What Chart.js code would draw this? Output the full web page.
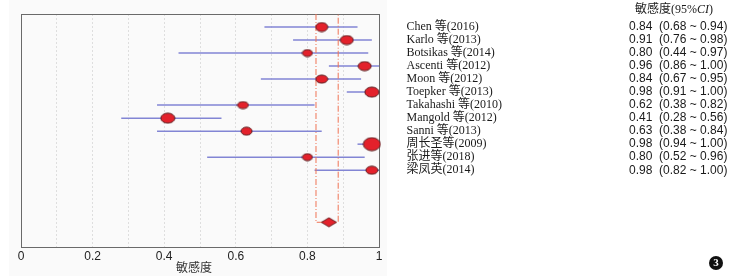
<!DOCTYPE html>
<html>
<head>
<meta charset="utf-8">
<script src="https://cdn.jsdelivr.net/npm/chart.js@4.4.1/dist/chart.umd.min.js"></script>
<style>
  body { margin: 0; background: #fff; }
  #canvas-container { width: 748px; height: 276px; }
</style>
</head>
<body>
<div id="canvas-container"><canvas id="mycanvas" width="748" height="276"></canvas></div>
<script>
// study data
const studies = [
  "Chen 等(2016)", "Karlo 等(2013)", "Botsikas 等(2014)", "Ascenti 等(2012)",
  "Moon 等(2012)", "Toepker 等(2013)", "Takahashi 等(2010)", "Mangold 等(2012)",
  "Sanni 等(2013)", "周长圣等(2009)", "张进等(2018)", "梁凤英(2014)"
];
const sens = [0.84, 0.91, 0.80, 0.96, 0.84, 0.98, 0.62, 0.41, 0.63, 0.98, 0.80, 0.98];
const ciLow = [0.68, 0.76, 0.44, 0.86, 0.67, 0.91, 0.38, 0.28, 0.38, 0.94, 0.52, 0.82];
const ciHigh = [0.94, 0.98, 0.97, 1.00, 0.95, 1.00, 0.82, 0.56, 0.84, 1.00, 0.96, 1.00];
const pooledSens = 0.86;
const pooledLow = 0.824;
const pooledHigh = 0.886;
const xTickLabels = [0, 0.2, 0.4, 0.6, 0.8, 1];

// marker sizes in px (width, height) as drawn
const markerW = [12, 13, 10, 13, 12, 14, 11, 14, 11, 17, 10, 12];
const markerH = [9, 9, 7, 9, 8, 10, 7, 10, 8, 13, 7, 8];

const RED = "#e3212b";
const BLUE = "#8285d4";

function ellipseImg(w, h) {
  let c = document.createElement("canvas");
  c.width = w + 2;
  c.height = h + 2;
  let g = c.getContext("2d");
  g.beginPath();
  g.ellipse(c.width / 2, c.height / 2, w / 2, h / 2, 0, 0, Math.PI * 2);
  g.fillStyle = RED;
  g.fill();
  g.lineWidth = 1;
  g.strokeStyle = "#5b1a1c";
  g.stroke();
  return c;
}

function diamondImg(w, h) {
  let c = document.createElement("canvas");
  c.width = w + 2;
  c.height = h + 2;
  let g = c.getContext("2d");
  g.beginPath();
  g.moveTo(1, h / 2 + 1);
  g.lineTo(w / 2 + 1, 1);
  g.lineTo(w + 1, h / 2 + 1);
  g.lineTo(w / 2 + 1, h + 1);
  g.closePath();
  g.fillStyle = RED;
  g.fill();
  g.lineWidth = 1;
  g.strokeStyle = "#6a1a1c";
  g.stroke();
  return c;
}

const pooledRow = 16;

// one line dataset per confidence interval
const ciSets = studies.map((s, i) => ({
  type: "line",
  data: [{ x: ciLow[i], y: i + 1 }, { x: ciHigh[i], y: i + 1 }],
  borderColor: BLUE,
  borderWidth: 1.5,
  pointRadius: 0,
  clip: false,
  order: 3,
}));

const pooledBracket = {
  type: "line",
  data: [
    { x: pooledLow, y: 0 }, { x: pooledLow, y: pooledRow },
    { x: pooledHigh, y: pooledRow }, { x: pooledHigh, y: 0 },
  ],
  borderColor: "#f07355",
  borderWidth: 1,
  borderDash: [6, 2, 1, 2],
  pointRadius: 0,
  order: 2,
};

const markers = {
  type: "scatter",
  data: sens.map((v, i) => ({ x: v, y: i + 1 })),
  pointStyle: markerW.map((w, i) => ellipseImg(w, markerH[i])),
  clip: false,
  order: 1,
};

const pooledMarker = {
  type: "scatter",
  data: [{ x: pooledSens, y: pooledRow }],
  pointStyle: diamondImg(15, 9),
  order: 0,
};

const panelPlugin = {
  id: "panel",
  beforeDraw(chart) {
    const { ctx } = chart;
    ctx.save();
    ctx.fillStyle = "#fafafa";
    ctx.fillRect(9, 0, 378, 276);
    ctx.restore();
  },
  beforeDatasetsDraw(chart) {
    const { ctx, chartArea: a } = chart;
    ctx.save();
    ctx.strokeStyle = "#6a6a6a";
    ctx.lineWidth = 1;
    ctx.strokeRect(Math.round(a.left) + 0.5, Math.round(a.top) + 0.5,
      Math.round(a.right - a.left), Math.round(a.bottom - a.top));
    ctx.restore();
  },
  afterDraw(chart) {
    const { ctx } = chart;
    const y = chart.scales.y;
    ctx.save();
    ctx.textBaseline = "middle";
    ctx.fillStyle = "#1a1a1a";

    // x axis title, sits a bit left of centre in the original
    ctx.textAlign = "center";
    ctx.fillStyle = "#333";
    ctx.font = '12px "Noto Sans CJK SC", sans-serif';
    ctx.fillText("敏感度", 194, 267);
    ctx.textAlign = "left";
    ctx.fillStyle = "#1a1a1a";

    // header
    ctx.font = '12px "Liberation Serif", "Noto Sans CJK SC", serif';
    let hx = 635;
    let part = "敏感度(95%";
    ctx.fillText(part, hx, 10);
    hx += ctx.measureText(part).width;
    ctx.font = 'italic 12px "Liberation Serif", serif';
    ctx.fillText("CI", hx, 10);
    hx += ctx.measureText("CI").width;
    ctx.font = '12px "Liberation Serif", serif';
    ctx.fillText(")", hx, 10);

    studies.forEach((s, i) => {
      const py = y.getPixelForValue(i + 1);
      ctx.font = '12px "Liberation Serif", "Noto Sans CJK SC", serif';
      ctx.fillText(s, 406.5, py);
      ctx.font = '12px "Liberation Sans", Arial, sans-serif';
      ctx.fillText(
        sens[i].toFixed(2) + "  (" + ciLow[i].toFixed(2) + " ~ " + ciHigh[i].toFixed(2) + ")",
        629, py
      );
    });

    // figure number
    ctx.beginPath();
    ctx.arc(716, 263, 7, 0, Math.PI * 2);
    ctx.fillStyle = "#111";
    ctx.fill();
    ctx.fillStyle = "#fff";
    ctx.font = 'bold 11px "Liberation Serif", serif';
    ctx.textAlign = "center";
    ctx.fillText("3", 716, 263.5);
    ctx.restore();
  },
};

const ctx = document.getElementById("mycanvas");
const myChart = new Chart(ctx, {
  data: {
    datasets: [pooledBracket, ...ciSets, markers, pooledMarker],
  },
  options: {
    responsive: false,
    animation: false,
    devicePixelRatio: 1,
    layout: { padding: { left: 21, right: 369, top: 14, bottom: 0 } },
    plugins: {
      legend: { display: false },
      tooltip: { enabled: false },
    },
    scales: {
      x: {
        type: "linear",
        min: 0,
        max: 1,
        afterFit: (scale) => { scale.height = 29; },
        ticks: {
          stepSize: 0.1,
          autoSkip: false,
          maxRotation: 0,
          padding: 2,
          color: "#222",
          font: { family: '"Liberation Sans", Arial, sans-serif', size: 12 },
          callback: (v) => {
            const hit = xTickLabels.find((t) => Math.abs(t - v) < 1e-6);
            return hit === undefined ? "" : String(hit);
          },
        },
        grid: { color: "#dedede", lineWidth: 1, drawTicks: false },
        border: { display: false, dash: [2, 2] },
        title: { display: false },
      },
      y: {
        type: "linear",
        display: false,
        min: 0,
        max: 17.9,
        reverse: true,
      },
    },
  },
  plugins: [panelPlugin],
});
</script>
</body>
</html>
